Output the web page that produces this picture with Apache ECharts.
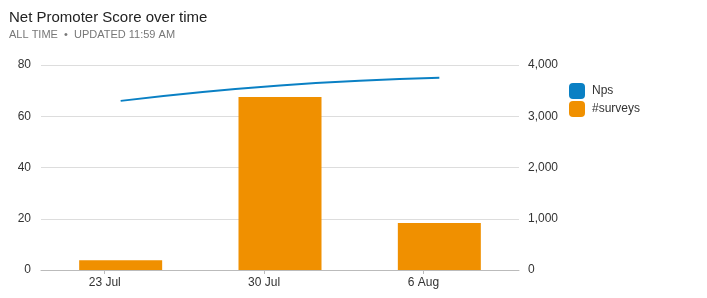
<!DOCTYPE html>
<html>
<head>
<meta charset="utf-8">
<script src="https://cdn.jsdelivr.net/npm/echarts@6/dist/echarts.min.js"></script>
<style>
html,body{margin:0;padding:0;background:#fff;}
#c{width:707px;height:298px;}
</style>
</head>
<body>
<div id="c"></div>
<script>
var categories = ['23 Jul', '30 Jul', '6 Aug'];
var npsValues = [66, 72, 75];
var surveyValues = [190, 3375, 915];
var leftTicks = [0, 20, 40, 60, 80];
var rightTicks = [0, 1000, 2000, 3000, 4000];

var FONT = '"Liberation Sans", Arial, sans-serif';
var LABEL_SHIFT = 0.1; // tick/label offset from band centre (in band units)

var barData = surveyValues.map(function (v, i) { return [i + 0.5, v]; });
var lineData = npsValues.map(function (v, i) { return [i + 0.5, v]; });
var tickPos = categories.map(function (c, i) { return i + 0.5 - LABEL_SHIFT; });

var chart = echarts.init(document.getElementById('c'), null, {renderer: 'canvas'});
chart.setOption({
  animation: false,
  textStyle: {fontFamily: FONT},
  title: {
    text: 'Net Promoter Score over time',
    subtext: 'ALL TIME  \u2022  UPDATED 11:59 AM',
    left: 4, top: 5,
    itemGap: 4,
    textStyle: {fontSize: 15, fontWeight: 'normal', color: '#222', fontFamily: FONT},
    subtextStyle: {fontSize: 11, color: '#777', fontFamily: FONT}
  },
  legend: {
    orient: 'vertical',
    left: 564, top: 78,
    itemWidth: 16, itemHeight: 16, itemGap: 2,
    icon: 'roundRect',
    textStyle: {fontSize: 12, color: '#333', fontFamily: FONT, padding: [0, 0, 0, 2]},
    data: ['Nps', '#surveys']
  },
  grid: {left: 41, right: 188, top: 65, bottom: 28, containLabel: false},
  xAxis: {
    type: 'value', min: 0, max: categories.length,
    axisLine: {show: true, lineStyle: {color: '#bbb', width: 1}},
    axisTick: {show: true, length: 4, lineStyle: {color: '#bbb'}, customValues: tickPos},
    axisLabel: {
      customValues: tickPos, margin: 7, fontSize: 12, color: '#333',
      formatter: function (v) {
        var i = Math.round(v - 0.5 + LABEL_SHIFT);
        return categories[i] || '';
      }
    },
    splitLine: {show: false}
  },
  yAxis: [
    {
      type: 'value', min: leftTicks[0], max: leftTicks[leftTicks.length - 1], interval: leftTicks[1] - leftTicks[0],
      position: 'left',
      axisLine: {show: false}, axisTick: {show: false},
      axisLabel: {margin: 10, fontSize: 12, color: '#333'},
      splitLine: {show: true, lineStyle: {color: '#ddd', width: 1}}
    },
    {
      type: 'value', min: rightTicks[0], max: rightTicks[rightTicks.length - 1], interval: rightTicks[1] - rightTicks[0],
      position: 'right',
      axisLine: {show: false}, axisTick: {show: false},
      axisLabel: {margin: 9, fontSize: 12, color: '#333',
        formatter: function (v) { return v.toLocaleString('en-US'); }},
      splitLine: {show: false}
    }
  ],
  series: [
    {
      name: 'Nps', type: 'line', yAxisIndex: 0, data: lineData,
      smooth: true, symbol: 'none', z: 5,
      itemStyle: {color: '#0a80c4'},
      lineStyle: {color: '#0a80c4', width: 2}
    },
    {
      name: '#surveys', type: 'bar', yAxisIndex: 1, data: barData,
      barWidth: 83, z: 2,
      itemStyle: {color: '#f09000'}
    }
  ]
});
</script>
</body>
</html>
